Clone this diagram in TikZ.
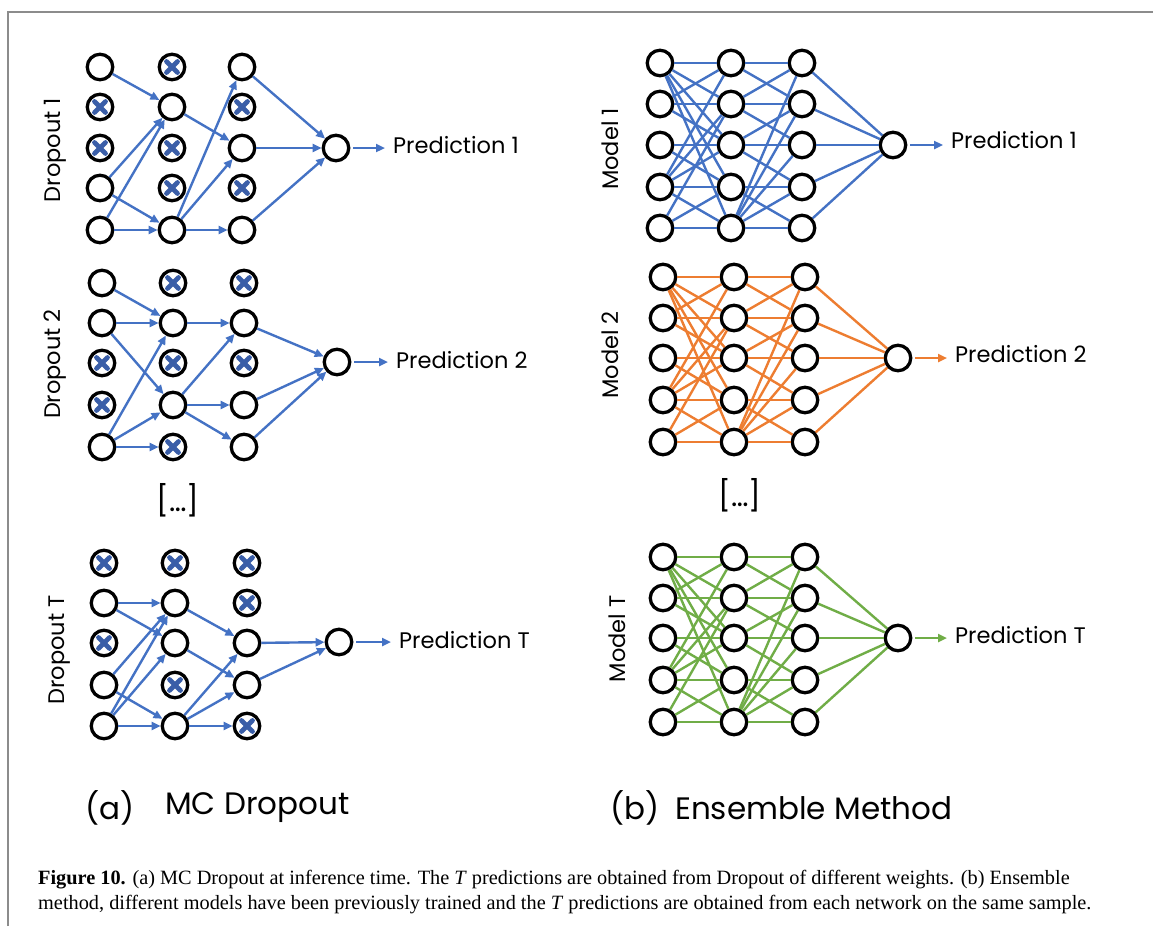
\documentclass[tikz,border=0pt]{standalone}
\usepackage{fontspec}
\setmainfont{Liberation Serif}
\newfontfamily\labelfont{Poppins}
\usetikzlibrary{arrows.meta}

\definecolor{netblue}{HTML}{4472C4}
\definecolor{netorange}{HTML}{ED7D31}
\definecolor{netgreen}{HTML}{70AD47}
\definecolor{dropx}{HTML}{3A5EA8}
\definecolor{framegray}{HTML}{8C8C8C}

\tikzset{
  neuron/.style={circle, draw=black, line width=3.3pt, fill=white,
    minimum size=25.5pt, inner sep=0pt},
  xmark/.style={draw=dropx, line width=4.8pt, line cap=round},
  wire/.style={line width=2.4pt},
  flow/.style={line width=2.4pt, -{Triangle[length=9pt,width=8pt]}},
  lbl/.style={font=\labelfont\fontsize{22.5}{26}\selectfont, inner sep=0pt},
  sublbl/.style={font=\labelfont\fontsize{31}{36}\selectfont, inner sep=0pt},
  caption/.style={font=\fontsize{20.3}{24}\selectfont, inner sep=0pt, anchor=base west},
}

% three layers of five neurons: #1 prefix, #2 column x's, #3 row y's
\newcommand\placenet[3]{%
  \foreach \xx [count=\c] in {#2} {
    \foreach \yy [count=\r] in {#3} {
      \node[neuron] (#1-\c-\r) at (\xx,\yy) {};
    }
  }
}
% cross out the dropped neurons
\newcommand\dropnodes[1]{%
  \foreach \n in {#1} {
    \draw[xmark] ([shift={(-5.5pt,-5.5pt)}]\n.center) -- ([shift={(5.5pt,5.5pt)}]\n.center)
                 ([shift={(-5.5pt,5.5pt)}]\n.center) -- ([shift={(5.5pt,-5.5pt)}]\n.center);
  }
}
% fully trained network: same wiring for every ensemble member
\newcommand\ensemblewires[2]{%
  \foreach \a/\b in {1/1,1/2,1/3,1/4,1/5,2/1,2/2,2/3,3/3,3/4,4/1,4/2,4/3,4/4,4/5,5/2,5/4,5/5}
    \draw[wire,#2] (#1-1-\a) -- (#1-2-\b);
  \foreach \a/\b in {1/1,1/2,2/1,2/2,2/3,3/2,3/3,3/4,4/4,4/5,5/1,5/2,5/3,5/4,5/5}
    \draw[wire,#2] (#1-2-\a) -- (#1-3-\b);
  \foreach \a in {1,...,5}
    \draw[wire,#2] (#1-3-\a) -- (#1-out);
}

\begin{document}
\begin{tikzpicture}[x=1pt,y=-1pt]
\useasboundingbox (0,0) rectangle (1153,926);

% page frame
\draw[framegray, line width=2pt] (8,926) -- (8,12) -- (1153,12);

% ---------------- (a) MC Dropout ----------------
% Dropout 1
\placenet{p}{100,172,242}{67,107,148,188,230}
\node[neuron] (p-out) at (336,148) {};
\dropnodes{p-1-2,p-1-3,p-2-1,p-2-3,p-2-4,p-3-2,p-3-4}
\foreach \s/\t in {1-1/2-2,1-4/2-2,1-5/2-2,1-4/2-5,1-5/2-5,2-2/3-3,2-5/3-1,2-5/3-3,2-5/3-5}
  \draw[flow,netblue] (p-\s) -- (p-\t);
\foreach \s in {3-1,3-3,3-5}
  \draw[flow,netblue] (p-\s) -- (p-out);
\node[lbl, anchor=west] (pr1) at (393,145) {Prediction 1};
\draw[flow,netblue,shorten <=3pt,shorten >=8pt] (p-out) -- (p-out -| pr1.west);
\node[lbl, rotate=90] (dl1) at (55,150) {Dropout 1};

% Dropout 2
\placenet{q}{102,173,244}{283,323,363,405,447}
\node[neuron] (q-out) at (337,362) {};
\dropnodes{q-1-3,q-1-4,q-2-1,q-2-3,q-2-5,q-3-1,q-3-3}
\foreach \s/\t in {1-1/2-2,1-2/2-2,1-2/2-4,1-5/2-2,1-5/2-4,1-5/2-5,2-2/3-2,2-4/3-2,2-4/3-4,2-4/3-5}
  \draw[flow,netblue] (q-\s) -- (q-\t);
\foreach \s in {3-2,3-4,3-5}
  \draw[flow,netblue] (q-\s) -- (q-out);
\node[lbl, anchor=west] (pr2) at (396,360) {Prediction 2};
\draw[flow,netblue,shorten <=3pt,shorten >=8pt] (q-out) -- (q-out -| pr2.west);
\node[lbl, rotate=90] (dl2) at (55,364) {Dropout 2};

\node[lbl, font=\labelfont\fontsize{30}{34}\selectfont] (dotsa) at (178,500) {[…]};

% Dropout T
\placenet{t}{104,175,247}{563,603,643,685,726}
\node[neuron] (t-out) at (339,642) {};
\dropnodes{t-1-1,t-1-3,t-2-1,t-2-4,t-3-1,t-3-2,t-3-5}
\foreach \s/\t in {1-2/2-2,1-2/2-3,1-4/2-2,1-4/2-5,1-5/2-2,1-5/2-3,1-5/2-5,2-2/3-3,2-3/3-4,2-5/3-3,2-5/3-4,2-5/3-5}
  \draw[flow,netblue] (t-\s) -- (t-\t);
\foreach \s in {3-3,3-4}
  \draw[flow,netblue] (t-\s) -- (t-out);
\node[lbl, anchor=west] (prt) at (399,640) {Prediction T};
\draw[flow,netblue,shorten <=3pt,shorten >=8pt] (t-out) -- (t-out -| prt.west);
\node[lbl, rotate=90] (dlt) at (60,650) {Dropout T};

% ---------------- (b) Ensemble method ----------------
% Model 1
\placenet{m}{660,731,802}{63,104,145,187,228}
\node[neuron] (m-out) at (893,145) {};
\ensemblewires{m}{netblue}
\node[lbl, anchor=west] (pm1) at (951,140) {Prediction 1};
\draw[flow,netblue,shorten <=3pt,shorten >=8pt] (m-out) -- (m-out -| pm1.west);
\node[lbl, rotate=90] (ml1) at (610,149) {Model 1};

% Model 2
\placenet{n}{663,734,805}{277,318,358,400,442}
\node[neuron] (n-out) at (898,358) {};
\ensemblewires{n}{netorange}
\node[lbl, anchor=west] (pm2) at (955,354) {Prediction 2};
\draw[flow,netorange,shorten <=3pt,shorten >=8pt] (n-out) -- (n-out -| pm2.west);
\node[lbl, rotate=90] (ml2) at (610,355) {Model 2};

\node[lbl, font=\labelfont\fontsize{30}{34}\selectfont] (dotsb) at (740,495) {[…]};

% Model T
\placenet{s}{663,734,805}{557,598,638,680,722}
\node[neuron] (s-out) at (898,638) {};
\ensemblewires{s}{netgreen}
\node[lbl, anchor=west] (pmt) at (955,635) {Prediction T};
\draw[flow,netgreen,shorten <=3pt,shorten >=8pt] (s-out) -- (s-out -| pmt.west);
\node[lbl, rotate=90] (mlt) at (617,639) {Model T};

% panel titles
\node[sublbl, anchor=west] (ta) at (85,808) {(a)};
\node[sublbl, anchor=west] (tam) at (165,808) {MC Dropout};
\node[sublbl, anchor=west] (tb) at (610,808) {(b)};
\node[sublbl, anchor=west] (tbm) at (675,808) {Ensemble Method};

% caption
\node[caption] (cap1) at (38,884) {\textbf{Figure 10.} (a) MC Dropout at inference time. The \textit{T} predictions are obtained from Dropout of different weights. (b) Ensemble};
\node[caption] (cap2) at (38,909) {method, different models have been previously trained and the \textit{T} predictions are obtained from each network on the same sample.};
\end{tikzpicture}
\end{document}
